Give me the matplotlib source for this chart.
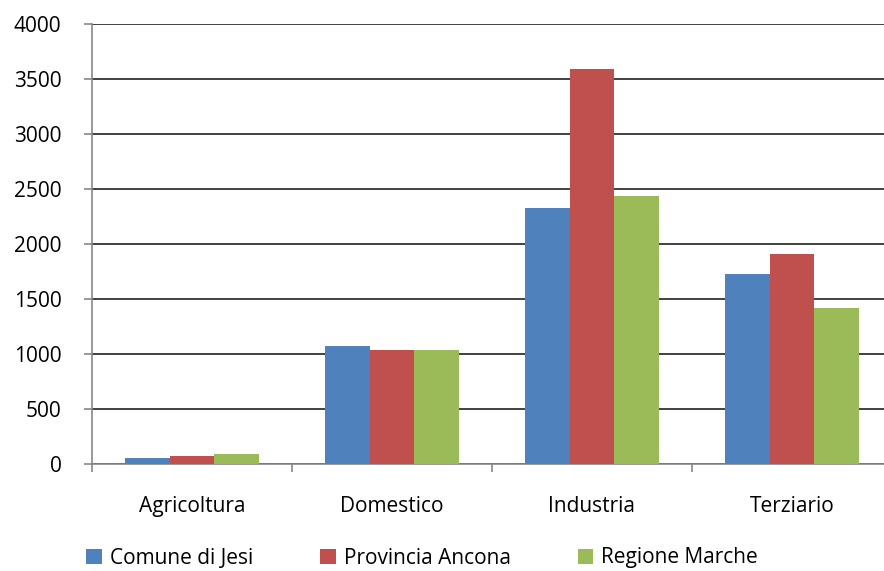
import matplotlib
matplotlib.use("Agg")
import matplotlib.pyplot as plt
from matplotlib.patches import Patch
import numpy as np

categories = ["Agricoltura", "Domestico", "Industria", "Terziario"]
series_names = ["Comune di Jesi", "Provincia Ancona", "Regione Marche"]
comune_jesi = [55, 1073, 2327, 1727]
provincia_ancona = [75, 1036, 3591, 1909]
regione_marche = [90, 1036, 2436, 1418]
y_ticks = [0, 500, 1000, 1500, 2000, 2500, 3000, 3500, 4000]

colors = ["#4F81BD", "#C0504D", "#9BBB59"]
plt.rcParams["font.family"] = ["Open Sans", "DejaVu Sans"]
FS = 15

W, H = 884, 571
fig = plt.figure(figsize=(W / 100, H / 100), dpi=100)
left, right, bottom, top = 92, 892, 464, 24
ax = fig.add_axes([left / W, 1 - bottom / H, (right - left) / W, (bottom - top) / H])

x = np.arange(len(categories))
bw = 0.223
for i, (vals, name) in enumerate(zip([comune_jesi, provincia_ancona, regione_marche], series_names)):
    ax.bar(x + (i - 1) * bw, vals, width=bw, color=colors[i], label=name, zorder=3)

ax.set_xlim(-0.5, len(categories) - 0.5)
ax.set_ylim(0, 4000)
ax.set_yticks(y_ticks)
ax.set_yticklabels([str(t) for t in y_ticks], fontsize=FS)
ax.yaxis.grid(True, color="#333333", linewidth=1.3, zorder=0)
ax.set_axisbelow(True)

ax.set_xticks(x)
ax.set_xticklabels(categories, fontsize=FS)
ax.tick_params(axis="x", which="major", length=0, pad=23)
ax.set_xticks(np.arange(-0.5, len(categories) + 0.5, 1), minor=True)
ax.tick_params(axis="x", which="minor", length=6, color="#888888", width=1.2)
ax.tick_params(axis="y", length=6, color="#888888", width=1.2, pad=16)

for s in ["top", "right"]:
    ax.spines[s].set_visible(False)
for s in ["left", "bottom"]:
    ax.spines[s].set_color("#888888")
    ax.spines[s].set_linewidth(1.2)

handles = [Patch(facecolor=c, edgecolor="none") for c in colors]
fig.legend(handles, series_names, loc="center left", bbox_to_anchor=(86 / W, 1 - 558 / H),
           ncol=3, frameon=False, fontsize=FS, handlelength=0.75, handleheight=0.75,
           handletextpad=0.4, columnspacing=3.2, borderaxespad=0, borderpad=0)

fig.savefig("out.png", dpi=100)
